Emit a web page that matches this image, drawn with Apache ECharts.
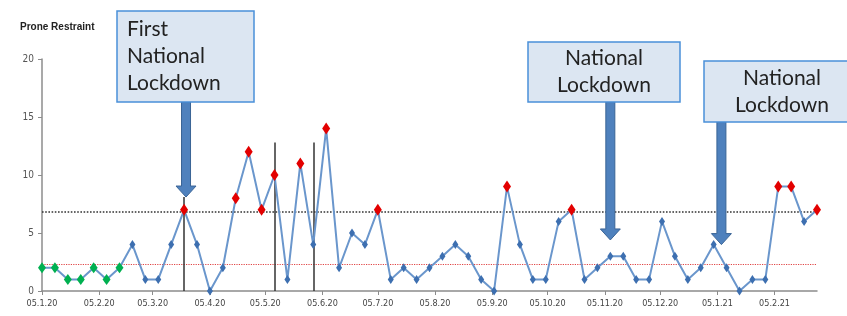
<!DOCTYPE html>
<html>
<head>
<meta charset="utf-8">
<script src="https://cdn.jsdelivr.net/npm/echarts@6/dist/echarts.min.js"></script>
<style>
  html, body { margin: 0; padding: 0; background: #fff; }
  #chart { width: 847px; height: 316px; }
</style>
</head>
<body>
<div id="chart"></div>
<script>
// weekly counts, first week 05.01.2020
const weeklyCounts = [2, 2, 1, 1, 2, 1, 2, 4, 1, 1, 4, 7, 4, 0, 2, 8, 12, 7, 10, 1, 11, 4, 14, 2, 5, 4, 7, 1, 2, 1, 2, 3, 4, 3, 1, 0, 9, 4, 1, 1, 6, 7, 1, 2, 3, 3, 1, 1, 6, 3, 1, 2, 4, 2, 0, 1, 1, 9, 9, 6, 7];
const firstWeek = '05.1.20';
const monthLabels = ['05.1.20', '05.2.20', '05.3.20', '05.4.20', '05.5.20', '05.6.20', '05.7.20', '05.8.20', '05.9.20', '05.10.20', '05.11.20', '05.12.20', '05.1.21', '05.2.21'];
const yTicks = [0, 5, 10, 15, 20];
const upperLimit = 6.8;
const centreLine = 2.3;
const baselineWeeks = 7;
const phaseWeeks = [11, 18, 21];
const phaseTops = [8.1, 12.8, 12.8];
const lockdownLabels = ['First\nNational\nLockdown', 'National\nLockdown', 'National\nLockdown'];
const lockdownWeeks = [11.15, 44, 52.6];
const lockdownTips = [8.1, 4.4, 4.0];

const narrow = "'Liberation Sans Narrow', 'DejaVu Sans Condensed', sans-serif";

function toTime(s) {
  const [d, m, y] = s.split('.').map(Number);
  return Date.UTC(2000 + y, m - 1, d);
}
const WEEK = 7 * 24 * 3600 * 1000;
const labelWeeks = monthLabels.map(s => (toTime(s) - toTime(firstWeek)) / WEEK);

const chart = echarts.init(document.getElementById('chart'));

const points = weeklyCounts.map((v, i) => {
  let color = '#3d6fb0', size = [6, 9];
  if (i < baselineWeeks) { color = '#00b050'; size = [8, 11]; }
  else if (v > upperLimit) { color = '#e30000'; size = [8, 12]; }
  return { value: [i, v], symbolSize: size, itemStyle: { color: color } };
});

chart.setOption({
  animation: false,
  title: {
    text: 'Prone Restraint',
    left: 15,
    top: 17,
    textStyle: { fontFamily: "'Liberation Sans', sans-serif", fontSize: 10, fontWeight: 'bold', color: '#222' }
  },
  grid: { left: 42, right: 30, top: 59, bottom: 25 },
  xAxis: {
    type: 'value',
    min: 0,
    max: weeklyCounts.length - 1,
    splitLine: { show: false },
    axisLine: { lineStyle: { color: '#8c8c8c', width: 1.5 } },
    axisTick: { show: true, length: 4, customValues: labelWeeks, lineStyle: { color: '#8c8c8c' } },
    axisLabel: {
      customValues: labelWeeks,
      fontFamily: narrow,
      fontSize: 9,
      color: '#444',
      margin: 8,
      formatter: v => {
        const k = labelWeeks.findIndex(w => Math.abs(w - v) < 1e-6);
        return k >= 0 ? monthLabels[k] : '';
      }
    }
  },
  yAxis: {
    type: 'value',
    min: yTicks[0],
    max: yTicks[yTicks.length - 1],
    interval: 5,
    splitLine: { show: false },
    axisLine: { show: true, lineStyle: { color: '#8c8c8c', width: 1.5 } },
    axisTick: { show: true, length: 4, lineStyle: { color: '#8c8c8c' } },
    axisLabel: { fontFamily: narrow, fontSize: 10, color: '#555', margin: 8 }
  },
  series: [{
    type: 'line',
    data: points,
    symbol: 'diamond',
    lineStyle: { color: '#6a96cc', width: 2 },
    z: 5,
    markLine: {
      silent: true,
      symbol: 'none',
      label: { show: false },
      data: [
        { yAxis: upperLimit, lineStyle: { color: '#333', type: 'dotted', width: 1.6 } },
        { yAxis: centreLine, lineStyle: { color: '#e04545', type: 'dotted', width: 1.2 } }
      ].concat(phaseWeeks.map((w, i) => [
        { coord: [w, 0], lineStyle: { color: '#333', type: 'solid', width: 1.5 } },
        { coord: [w, phaseTops[i]] }
      ]))
    }
  }]
});

// call-out boxes and arrows
const boxes = [
  { x: 117, y: 11, w: 137, h: 91, align: 'left' },
  { x: 528, y: 42, w: 152, h: 60, align: 'center' },
  { x: 704, y: 61, w: 156, h: 61, align: 'center' }
];
const graphics = [];
boxes.forEach((b, i) => {
  const x = chart.convertToPixel({ seriesIndex: 0 }, [lockdownWeeks[i], 0])[0];
  const tip = chart.convertToPixel({ seriesIndex: 0 }, [0, lockdownTips[i]])[1];
  const top = b.y + b.h;
  const head = tip - 11;
  graphics.push({
    type: 'polygon',
    z: 20,
    shape: { points: [[x - 4.5, top], [x + 4.5, top], [x + 4.5, head], [x + 10, head], [x, tip], [x - 10, head], [x - 4.5, head]] },
    style: { fill: '#4f81bd', stroke: '#3a6496', lineWidth: 1 }
  });
  graphics.push({
    type: 'rect',
    z: 21,
    shape: { x: b.x, y: b.y, width: b.w, height: b.h },
    style: { fill: '#dce6f2', stroke: '#4a90d9', lineWidth: 1.5 }
  });
  graphics.push({
    type: 'text',
    z: 22,
    x: b.align === 'left' ? b.x + 10 : b.x + b.w / 2,
    y: b.y + b.h / 2,
    style: {
      text: lockdownLabels[i],
      fontFamily: 'Lato, sans-serif',
      fontSize: 21,
      lineHeight: 27,
      fill: '#222',
      align: b.align,
      verticalAlign: 'middle'
    }
  });
});
chart.setOption({ graphic: graphics });
</script>
</body>
</html>
